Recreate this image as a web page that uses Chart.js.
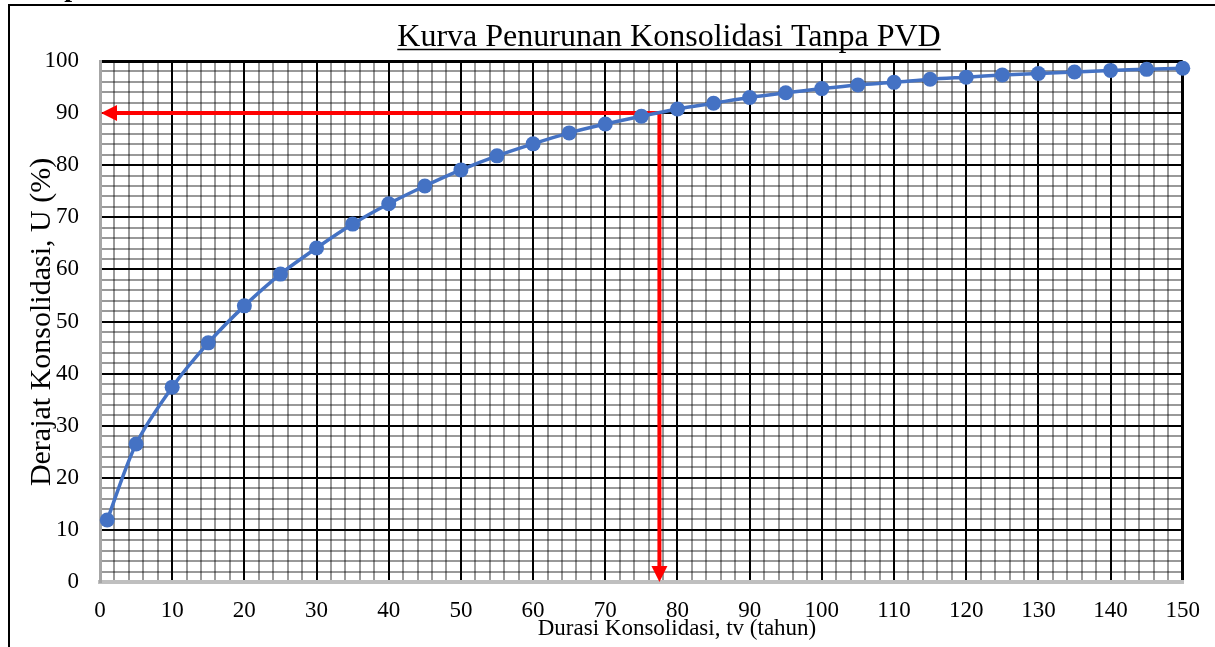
<!DOCTYPE html>
<html>
<head>
<meta charset="utf-8">
<script src="https://cdn.jsdelivr.net/npm/chart.js@4/dist/chart.umd.min.js"></script>
<style>
  html, body { margin: 0; padding: 0; background: #ffffff; }
  #wrap { width: 1215px; height: 647px; position: relative; }
</style>
</head>
<body>
<div id="wrap"><canvas id="kurva" width="1215" height="647"></canvas></div>
<script>
// Durasi konsolidasi (tahun) and derajat konsolidasi U (%)
const tahun = [1, 5, 10, 15, 20, 25, 30, 35, 40, 45, 50, 55, 60, 65, 70, 75,
               80, 85, 90, 95, 100, 105, 110, 115, 120, 125, 130, 135, 140, 145, 150];
const derajatU = [11.9, 26.5, 37.4, 45.9, 53.0, 59.1, 64.1, 68.7, 72.6, 76.0, 79.1, 81.8, 84.1, 86.2, 87.9, 89.4,
                  90.8, 91.9, 93.0, 93.9, 94.7, 95.4, 95.9, 96.5, 96.9, 97.3, 97.6, 97.9, 98.2, 98.4, 98.6];

// Axis ranges and grid steps
const xRange = [0, 150];
const yRange = [0, 100];
const gridStep = 2;     // minor grid
const labelStep = 10;   // major grid with labels

// Reading of the curve at U = 90 %
const targetU = 90;
const targetTahun = 77.5;

const chartTitle = 'Kurva Penurunan Konsolidasi Tanpa PVD';
const xTitle = 'Durasi Konsolidasi, tv (tahun)';
const yTitle = 'Derajat Konsolidasi, U (%)';

const serif = '"Liberation Serif", "Times New Roman", serif';

function gridColor(ctx, max) {
  const v = ctx.tick.value;
  if (v === 0) return 'rgba(0,0,0,0)';
  if (v % labelStep === 0 || v === max) return '#000000';
  return 'rgba(0,0,0,0.4)';
}
function gridWidth(ctx, max) {
  const v = ctx.tick.value;
  if (v === max) return 3;
  return 2;
}

const decorPlugin = {
  id: 'decor',
  beforeDraw(chart) {
    const c = chart.ctx;
    c.save();
    c.fillStyle = '#ffffff';
    c.fillRect(0, 0, chart.width, chart.height);
    // outer frame
    c.strokeStyle = '#000000';
    c.lineWidth = 2;
    c.beginPath();
    c.moveTo(9, chart.height + 2);
    c.lineTo(9, 5);
    c.lineTo(chart.width + 2, 5);
    c.stroke();
    // caption fragment above the frame
    c.fillStyle = '#000000';
    c.font = 'bold 28px ' + serif;
    c.textAlign = 'center';
    c.textBaseline = 'alphabetic';
    c.fillText('p', 72, -4);
    c.restore();
  },
  beforeDatasetsDraw(chart) {
    const c = chart.ctx;
    const xs = chart.scales.x, ys = chart.scales.y;
    const px = xs.getPixelForValue(targetTahun);
    const py = ys.getPixelForValue(targetU);
    const x0 = xs.getPixelForValue(xRange[0]);
    const y0 = ys.getPixelForValue(yRange[0]);
    const head = 16, half = 8;
    c.save();
    c.strokeStyle = '#ff0000';
    c.fillStyle = '#ff0000';
    c.lineWidth = 4;
    c.lineCap = 'butt';
    c.beginPath();
    c.moveTo(px + 2, py);
    c.lineTo(x0 + head, py);
    c.moveTo(px, py - 2);
    c.lineTo(px, y0 - head);
    c.stroke();
    // arrow heads
    c.beginPath();
    c.moveTo(x0 + 1, py);
    c.lineTo(x0 + 1 + head, py - half);
    c.lineTo(x0 + 1 + head, py + half);
    c.closePath();
    c.fill();
    c.beginPath();
    c.moveTo(px, y0);
    c.lineTo(px - half, y0 - head);
    c.lineTo(px + half, y0 - head);
    c.closePath();
    c.fill();
    c.restore();
  },
  afterDraw(chart) {
    const c = chart.ctx;
    c.save();
    c.fillStyle = '#000000';
    c.strokeStyle = '#000000';
    // chart title, underlined
    c.font = '32px ' + serif;
    c.textAlign = 'center';
    c.textBaseline = 'alphabetic';
    const tx = 669, ty = 46;
    c.fillText(chartTitle, tx, ty);
    const w = c.measureText(chartTitle).width;
    c.lineWidth = 1.5;
    c.beginPath();
    c.moveTo(tx - w / 2, ty + 3.5);
    c.lineTo(tx + w / 2, ty + 3.5);
    c.stroke();
    // axis titles
    c.font = '23px ' + serif;
    c.fillText(xTitle, 677, 635);
    c.font = '30px ' + serif;
    c.translate(50, 322);
    c.rotate(-Math.PI / 2);
    c.fillText(yTitle, 0, 0);
    c.restore();
  }
};

new Chart(document.getElementById('kurva'), {
  type: 'line',
  data: {
    labels: tahun,
    datasets: [{
      data: tahun.map((t, i) => ({ x: t, y: derajatU[i] })),
      borderColor: '#4472c4',
      backgroundColor: '#4472c4',
      borderWidth: 3.5,
      pointRadius: 7.5,
      pointBorderWidth: 0,
      pointBackgroundColor: '#4472c4',
      tension: 0.3,
      clip: false
    }]
  },
  options: {
    responsive: false,
    animation: false,
    devicePixelRatio: 1,
    layout: { padding: { top: 61, right: 28, left: 0, bottom: 0 } },
    plugins: { legend: { display: false }, tooltip: { enabled: false }, title: { display: false } },
    scales: {
      x: {
        type: 'linear',
        min: xRange[0], max: xRange[1],
        afterFit(scale) { scale.height = 65; },
        ticks: {
          stepSize: gridStep, autoSkip: false, maxRotation: 0, padding: 15,
          color: '#000000', font: { family: serif, size: 23 },
          callback: v => (v % labelStep === 0 ? String(v) : '')
        },
        grid: {
          drawTicks: false,
          color: ctx => gridColor(ctx, xRange[1]),
          lineWidth: ctx => gridWidth(ctx, xRange[1])
        },
        border: { display: true, color: '#bfbfbf', width: 4 }
      },
      y: {
        type: 'linear',
        min: yRange[0], max: yRange[1],
        afterFit(scale) { scale.width = 100; },
        ticks: {
          stepSize: gridStep, autoSkip: false, padding: 21,
          color: '#000000', font: { family: serif, size: 23 },
          callback: v => (v % labelStep === 0 ? String(v) : '')
        },
        grid: {
          drawTicks: false,
          color: ctx => gridColor(ctx, yRange[1]),
          lineWidth: ctx => gridWidth(ctx, yRange[1])
        },
        border: { display: true, color: '#a6a6a6', width: 3 }
      }
    }
  },
  plugins: [decorPlugin]
});
</script>
</body>
</html>
